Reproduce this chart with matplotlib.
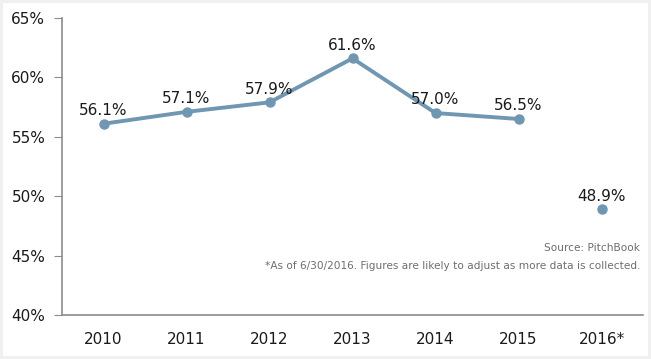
import matplotlib.pyplot as plt
from matplotlib.patches import Rectangle

years = ['2010', '2011', '2012', '2013', '2014', '2015', '2016*']
values = [56.1, 57.1, 57.9, 61.6, 57.0, 56.5, 48.9]
yticks = [40, 45, 50, 55, 60, 65]

line_color = '#6f97b1'
axis_color = '#8c8c8c'

fig = plt.figure(figsize=(6.51, 3.59), dpi=100, facecolor='#f0f0f0')
fig.patches.append(Rectangle((3 / 651, 3 / 359), 645 / 651, 353 / 359,
                             transform=fig.transFigure, facecolor='white',
                             edgecolor='none', zorder=-1))
ax = fig.add_axes([62 / 651, 44 / 359, 581 / 651, 297 / 359])
ax.set_zorder(1)
ax.set_facecolor('none')

x = list(range(len(years)))
ax.plot(x[:6], values[:6], color=line_color, lw=2.8, marker='o', ms=6.5, zorder=3)
ax.plot(x[6:], values[6:], color=line_color, lw=0, marker='o', ms=6.5, zorder=3)

for xi, v in zip(x, values):
    ax.annotate(f'{v:.1f}%', (xi, v), xytext=(0, 4), textcoords='offset points',
                ha='center', va='bottom', fontsize=11, color='#1a1a1a')

ax.set_xlim(-0.5, 6.5)
ax.set_ylim(40, 65)
ax.set_yticks(yticks)
ax.set_yticklabels([f'{t}%' for t in yticks])
ax.set_xticks(x)
ax.set_xticklabels(years)

for s in ['top', 'right']:
    ax.spines[s].set_visible(False)
for s in ['left', 'bottom']:
    ax.spines[s].set_color(axis_color)
    ax.spines[s].set_linewidth(1.2)
ax.tick_params(axis='y', length=6, color=axis_color, labelsize=11, pad=6, labelcolor='#1a1a1a')
ax.tick_params(axis='x', length=0, labelsize=11, pad=12, labelcolor='#1a1a1a')

ax.text(0.995, 0.225, 'Source: PitchBook', transform=ax.transAxes,
        ha='right', va='center', fontsize=7.6, color='#6e6e6e')
ax.text(0.995, 0.165, '*As of 6/30/2016. Figures are likely to adjust as more data is collected.',
        transform=ax.transAxes, ha='right', va='center', fontsize=7.6, color='#6e6e6e')

fig.savefig('out.png', dpi=100, facecolor=fig.get_facecolor())
